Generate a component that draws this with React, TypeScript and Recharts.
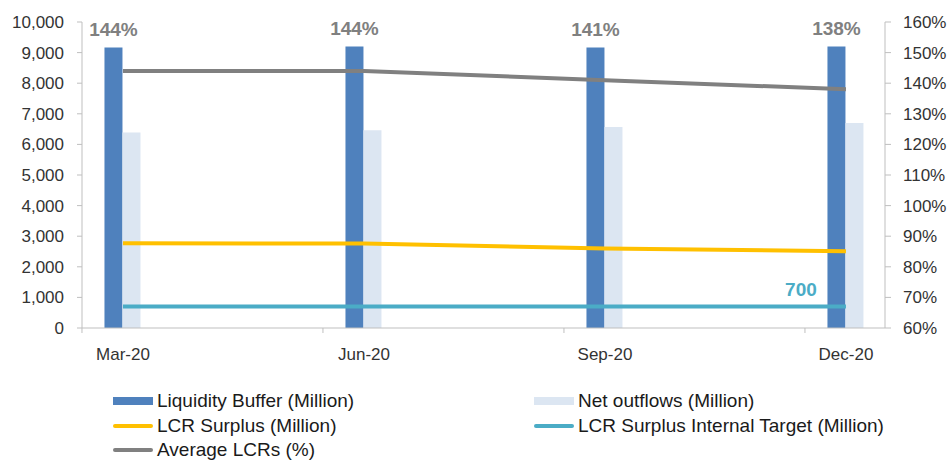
import React from 'react';
import { ComposedChart, Bar, Line, XAxis, YAxis, LabelList } from 'recharts';

// Quarter-end reporting dates
const quarters = ['Mar-20', 'Jun-20', 'Sep-20', 'Dec-20'];

// Amounts in millions
const liquidityBuffer = [9170, 9200, 9170, 9200];
const netOutflows = [6390, 6460, 6570, 6700];
const lcrSurplus = [2770, 2760, 2600, 2510];
const surplusTarget = [700, 700, 700, 700];

// Average liquidity coverage ratio, percent
const averageLcr = [144, 144, 141, 138];

const amountTicks = [0, 1000, 2000, 3000, 4000, 5000, 6000, 7000, 8000, 9000, 10000];
const ratioTicks = [60, 70, 80, 90, 100, 110, 120, 130, 140, 150, 160];

const seriesNames = [
  'Liquidity Buffer (Million)',
  'Net outflows (Million)',
  'LCR Surplus (Million)',
  'LCR Surplus Internal Target (Million)',
  'Average LCRs (%)',
];

const data = quarters.map((quarter, i) => ({
  idx: i,
  quarter,
  buffer: liquidityBuffer[i],
  outflows: netOutflows[i],
  surplus: lcrSurplus[i],
  target: surplusTarget[i],
  lcr: averageLcr[i],
}));

const FONT = '"Liberation Sans", Arial, sans-serif';
const AXIS_COLOR = '#bfbfbf';
const TEXT_COLOR = '#333333';
const COLORS = {
  buffer: '#4f81bd',
  outflows: '#dce6f2',
  surplus: '#ffc000',
  target: '#4bacc6',
  lcr: '#808080',
};

// Tick marks sit between the quarter labels, 41px left of each label
const TICK_SHIFT = 41;

const QuarterTick = (props: any) => {
  const { x, y, payload } = props;
  const label = quarters[payload.value] ?? '';
  return (
    <g>
      <line x1={x - TICK_SHIFT} x2={x - TICK_SHIFT} y1={y - 20} y2={y - 15} stroke={AXIS_COLOR} strokeWidth={1} />
      <text x={x} y={y} dy="0.71em" textAnchor="middle" fontFamily={FONT} fontSize={17} fill={TEXT_COLOR}>
        {label}
      </text>
    </g>
  );
};

const LcrLabel = (props: any) => {
  const { x, y, width, value } = props;
  return (
    <text
      x={x + width / 2}
      y={y - 11}
      textAnchor="middle"
      fontFamily={FONT}
      fontSize={19}
      fontWeight="bold"
      fill={COLORS.lcr}
    >
      {`${value}%`}
    </text>
  );
};

const TargetLabel = (props: any) => {
  const { x, y, value, index } = props;
  if (index !== quarters.length - 1) return null;
  return (
    <text
      x={x - 45}
      y={y - 11}
      textAnchor="middle"
      fontFamily={FONT}
      fontSize={19}
      fontWeight="bold"
      fill={COLORS.target}
    >
      {value.toLocaleString('en-US')}
    </text>
  );
};

const legendRows = [
  [
    { name: seriesNames[0], color: COLORS.buffer, kind: 'bar' },
    { name: seriesNames[1], color: COLORS.outflows, kind: 'bar' },
  ],
  [
    { name: seriesNames[2], color: COLORS.surplus, kind: 'line' },
    { name: seriesNames[3], color: COLORS.target, kind: 'line' },
  ],
  [{ name: seriesNames[4], color: COLORS.lcr, kind: 'line' }],
];

const legendColumns = [113, 534];
const legendRowCenters = [401, 426, 450];

const LegendBlock = () => (
  <>
    {legendRows.map((row, r) =>
      row.map((item, c) => (
        <div
          key={item.name}
          style={{
            position: 'absolute',
            left: legendColumns[c],
            top: legendRowCenters[r] - 11,
            height: 22,
            lineHeight: '22px',
            display: 'flex',
            alignItems: 'center',
            fontFamily: FONT,
            fontSize: 19,
            color: '#1a1a1a',
            whiteSpace: 'nowrap',
          }}
        >
          <span
            style={{
              display: 'inline-block',
              width: 40,
              height: item.kind === 'bar' ? 8 : 4,
              background: item.color,
              borderRadius: item.kind === 'line' ? 2 : 0,
              marginRight: 4,
            }}
          />
          <span>{item.name}</span>
        </div>
      ))
    )}
  </>
);

export default function App() {
  return (
    <div style={{ position: 'absolute', left: 0, top: 0, width: 947, height: 461, background: '#ffffff', overflow: 'hidden' }}>
      <ComposedChart
        width={947}
        height={461}
        data={data}
        margin={{ top: 22, right: 12, bottom: 103, left: 12 }}
        barGap={0}
      >
        <XAxis
          dataKey="idx"
          type="number"
          domain={[-0.17, 3.162]}
          ticks={[0, 1, 2, 3]}
          interval={0}
          height={30}
          tickLine={false}
          tickSize={5}
          tickMargin={15}
          axisLine={{ stroke: AXIS_COLOR }}
          tick={<QuarterTick />}
        />
        <YAxis
          yAxisId="left"
          orientation="left"
          width={70}
          domain={[0, 10000]}
          ticks={amountTicks}
          interval={0}
          tickSize={5}
          tickMargin={13}
          axisLine={{ stroke: AXIS_COLOR }}
          tickLine={{ stroke: AXIS_COLOR }}
          tick={{ fontFamily: FONT, fontSize: 17, fill: TEXT_COLOR }}
          tickFormatter={(v: number) => v.toLocaleString('en-US')}
        />
        <YAxis
          yAxisId="right"
          orientation="right"
          width={50}
          domain={[60, 160]}
          ticks={ratioTicks}
          interval={0}
          tickSize={6}
          tickMargin={12}
          axisLine={{ stroke: AXIS_COLOR }}
          tickLine={{ stroke: AXIS_COLOR }}
          tick={{ fontFamily: FONT, fontSize: 17, fill: TEXT_COLOR }}
          tickFormatter={(v: number) => `${v}%`}
        />
        <Bar yAxisId="left" dataKey="buffer" name={seriesNames[0]} fill={COLORS.buffer} barSize={18} isAnimationActive={false}>
          <LabelList dataKey="lcr" content={<LcrLabel />} />
        </Bar>
        <Bar yAxisId="left" dataKey="outflows" name={seriesNames[1]} fill={COLORS.outflows} barSize={18} isAnimationActive={false} />
        <Line
          yAxisId="left"
          dataKey="surplus"
          name={seriesNames[2]}
          stroke={COLORS.surplus}
          strokeWidth={4}
          dot={false}
          isAnimationActive={false}
        />
        <Line
          yAxisId="left"
          dataKey="target"
          name={seriesNames[3]}
          stroke={COLORS.target}
          strokeWidth={4}
          dot={false}
          isAnimationActive={false}
        >
          <LabelList dataKey="target" content={<TargetLabel />} />
        </Line>
        <Line
          yAxisId="right"
          dataKey="lcr"
          name={seriesNames[4]}
          stroke={COLORS.lcr}
          strokeWidth={4}
          dot={false}
          isAnimationActive={false}
        />
      </ComposedChart>
      <LegendBlock />
    </div>
  );
}
